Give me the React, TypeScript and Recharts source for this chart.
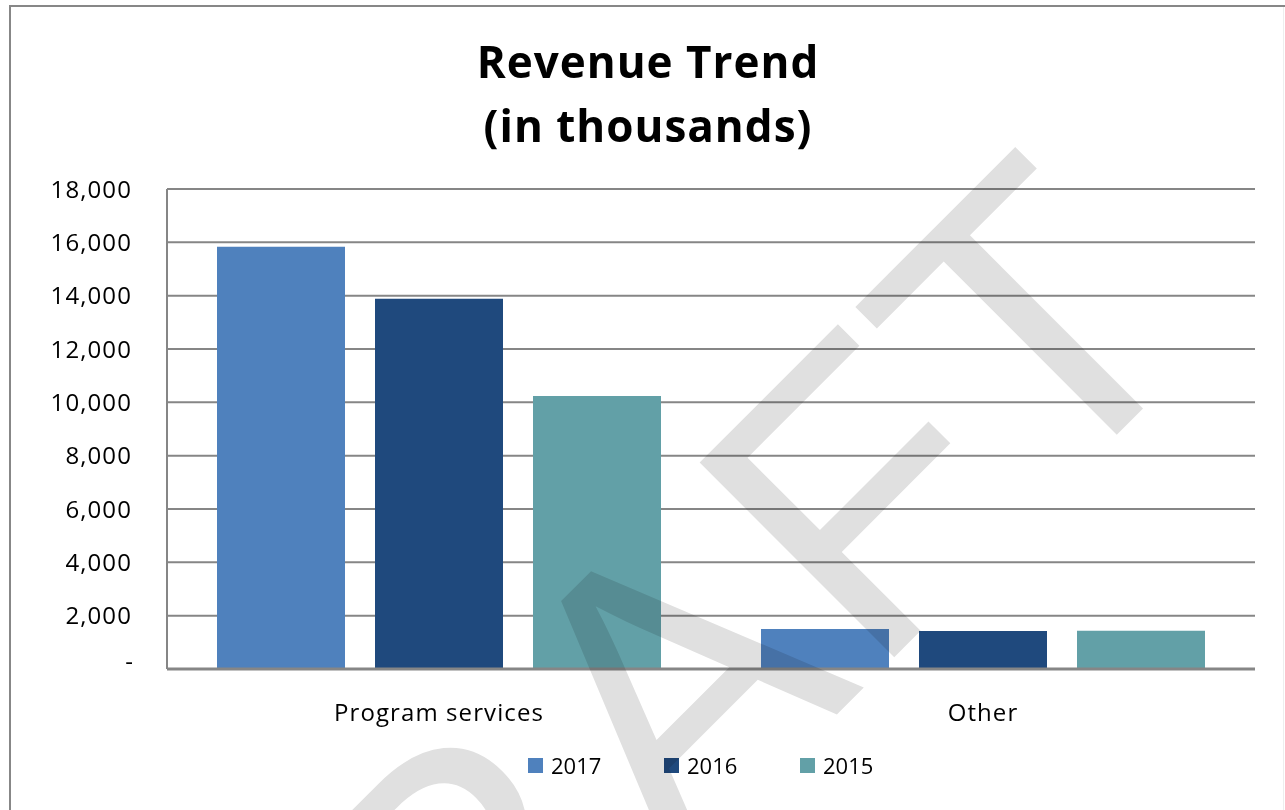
import { BarChart, Bar, XAxis, YAxis, CartesianGrid, Legend } from "recharts";

const categories = ["Program services", "Other"];
const years = ["2017", "2016", "2015"];
const revenue2017 = [15830, 1500];
const revenue2016 = [13880, 1425];
const revenue2015 = [10240, 1430];
const yTicks = [0, 2000, 4000, 6000, 8000, 10000, 12000, 14000, 16000, 18000];
const barColors = ["#4f81bd", "#1f497d", "#62a0a7"];
const watermark = ["D", "R", "A", "F", "T"];

const seriesValues = [revenue2017, revenue2016, revenue2015];

const data = categories.map((name, i) => {
  const row: Record<string, string | number> = { name };
  years.forEach((year, s) => {
    row[year] = seriesValues[s][i];
  });
  return row;
});

const FONT = "'Open Sans', sans-serif";
const GRID = "#868686";

const fmt = (v: number) => (v === 0 ? "-" : v.toLocaleString("en-US"));

function YTick(props: any) {
  const { x, y, payload } = props;
  const zero = payload.value === 0;
  return (
    <text
      x={zero ? x + 2 : x}
      y={y}
      dy={zero ? 1 : 8.5}
      textAnchor="end"
      fontFamily={FONT}
      fontSize={24}
      letterSpacing={1.1}
      fill="#000"
    >
      {fmt(payload.value)}
    </text>
  );
}

function XTick(props: any) {
  const { x, payload } = props;
  return (
    <text
      x={x}
      y={721}
      textAnchor="middle"
      fontFamily={FONT}
      fontSize={24}
      letterSpacing={1.1}
      fill="#000"
    >
      {payload.value}
    </text>
  );
}

function LegendBox(props: any) {
  const items = props.payload || [];
  // keep the legend in series order (2017, 2016, 2015)
  const ordered = years
    .map((y) => items.find((it: any) => String(it.value) === y || it.dataKey === y))
    .filter(Boolean);
  return (
    <div style={{ position: "relative", height: 30 }}>
      {ordered.map((item: any, i: number) => (
        <div
          key={item.value}
          style={{
            position: "absolute",
            left: 528 + i * 136,
            top: 0,
            height: 30,
            display: "flex",
            alignItems: "center",
          }}
        >
          <span
            style={{
              width: 15,
              height: 15,
              background: item.color,
              display: "inline-block",
              marginRight: 8,
            }}
          />
          <span style={{ fontFamily: FONT, fontSize: 22, color: "#000", lineHeight: "30px" }}>
            {item.value}
          </span>
        </div>
      ))}
    </div>
  );
}

export default function App() {
  // letter centres of the rotated watermark, in the rotated frame
  const wmCenters = [-615, -305, -8, 257, 501];
  return (
    <div
      style={{
        position: "absolute",
        left: 0,
        top: 0,
        width: 1285,
        height: 810,
        overflow: "hidden",
        background: "#fff",
      }}
    >
      <div
        style={{
          position: "absolute",
          left: 9,
          top: 5,
          width: 1300,
          height: 900,
          borderLeft: "2px solid #878787",
          borderTop: "2px solid #878787",
        }}
      />
      <div
        style={{
          position: "absolute",
          left: 1283,
          top: 7,
          width: 1,
          height: 810,
          background: "#eeeeee",
        }}
      />
      <svg
        width={1285}
        height={810}
        style={{ position: "absolute", left: 0, top: 0 }}
      >
        <text
          x={648}
          y={78}
          textAnchor="middle"
          fontFamily={FONT}
          fontWeight={700}
          fontSize={44}
          letterSpacing={1}
        >
          Revenue Trend
        </text>
        <text
          x={648}
          y={142}
          textAnchor="middle"
          fontFamily={FONT}
          fontWeight={700}
          fontSize={44}
          letterSpacing={1}
        >
          (in thousands)
        </text>
      </svg>
      <div style={{ position: "absolute", left: 0, top: 0 }}>
        <BarChart
          width={1285}
          height={810}
          data={data}
          margin={{ top: 189, right: 30, left: 0, bottom: 30 }}
          barCategoryGap={50}
          barGap={30}
        >
          <CartesianGrid vertical={false} stroke={GRID} strokeWidth={2} />
          <XAxis
            dataKey="name"
            height={81}
            axisLine={{ stroke: GRID, strokeWidth: 3 }}
            tickLine={false}
            tickSize={0}
            tickMargin={0}
            tick={<XTick />}
            interval={0}
          />
          <YAxis
            width={167}
            domain={[0, 18000]}
            ticks={yTicks}
            interval={0}
            axisLine={{ stroke: GRID, strokeWidth: 2 }}
            tickLine={false}
            tickSize={0}
            tickMargin={35}
            tick={<YTick />}
          />
          <Legend verticalAlign="bottom" content={<LegendBox />} />
          {years.map((year, i) => (
            <Bar
              key={year}
              dataKey={year}
              fill={barColors[i]}
              isAnimationActive={false}
            />
          ))}
        </BarChart>
      </div>
      <svg
        width={1285}
        height={810}
        style={{
          position: "absolute",
          left: 0,
          top: 0,
          pointerEvents: "none",
          mixBlendMode: "multiply",
        }}
      >
        <g transform="rotate(-45)">
          {watermark.map((ch, i) => (
            <text
              key={ch}
              x={wmCenters[i]}
              y={1097}
              textAnchor="middle"
              fontFamily="'Liberation Sans', Arial, sans-serif"
              fontSize={400}
              fill="#e0e0e0"
            >
              {ch}
            </text>
          ))}
        </g>
      </svg>
    </div>
  );
}
